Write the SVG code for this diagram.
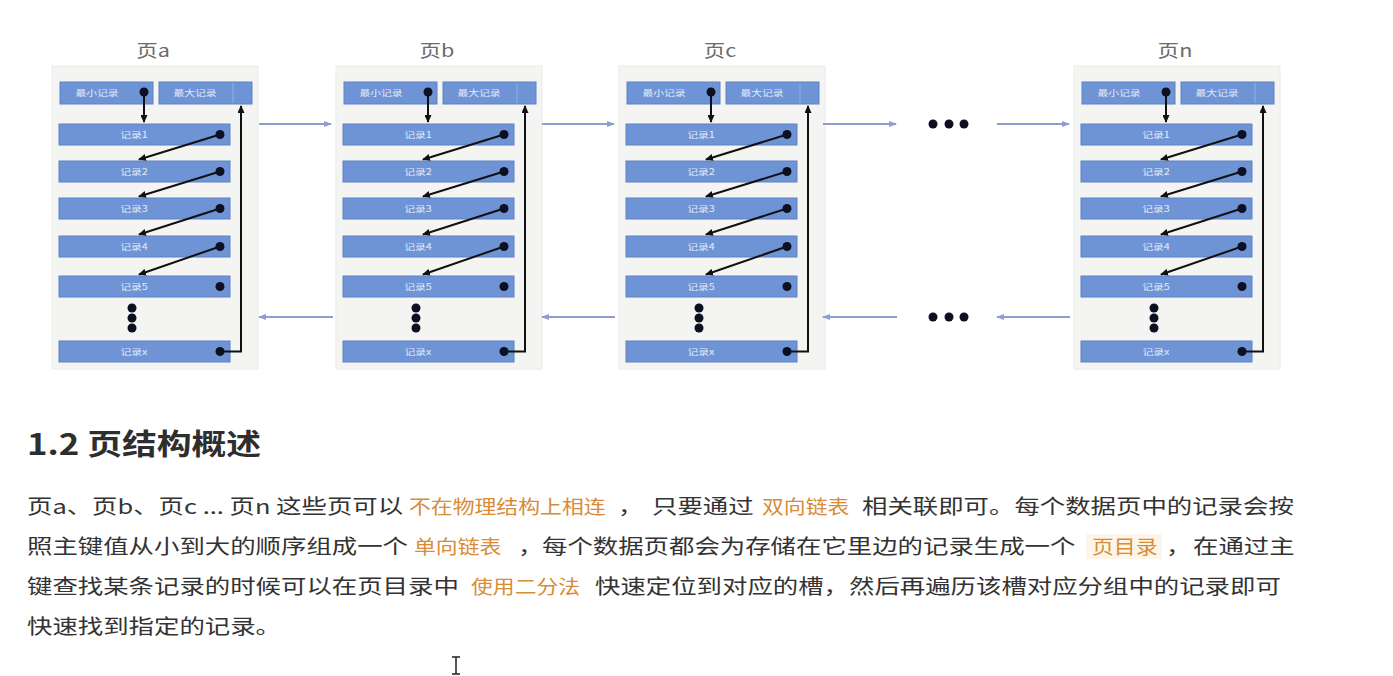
<svg xmlns="http://www.w3.org/2000/svg" width="1393" height="676" viewBox="0 0 1393 676">
<style>
.panel{fill:#f4f4f2;stroke:#ebebe8;stroke-width:1}
.box{fill:#6f94d6;stroke:#5d82c6;stroke-width:1}
.div{stroke:#8fb0e6;stroke-width:1}
.lbl{font-family:"Noto Sans CJK SC","Noto Sans",sans-serif;font-size:8.5px;fill:#e3ebf8;text-anchor:middle}
.title{font-family:"Noto Sans CJK SC","Noto Sans",sans-serif;font-size:17px;fill:#6b6b6b;text-anchor:middle}
.dot{fill:#0d1020}
.ptr{stroke:#111;stroke-width:2;fill:none}
.link{stroke:#8f9bd3;stroke-width:2;fill:none}
.t{font-family:"Noto Sans CJK SC","Noto Sans",sans-serif;font-size:20px;fill:#333}
.o{font-family:"Noto Sans CJK SC","Noto Sans",sans-serif;font-size:19px;fill:#d88c38}
.h{font-family:"Noto Sans CJK SC","Noto Sans",sans-serif;font-size:29px;font-weight:bold;fill:#2e2e2e}
</style>
<defs>
<marker id="ah" viewBox="0 0 8 7" refX="7" refY="3.5" markerWidth="8" markerHeight="7" markerUnits="userSpaceOnUse" orient="auto"><path d="M0,0 L8,3.5 L0,7 z" fill="#111"/></marker>
<marker id="lh" viewBox="0 0 8 6" refX="7" refY="3" markerWidth="8" markerHeight="6" markerUnits="userSpaceOnUse" orient="auto"><path d="M0,0 L8,3 L0,6 z" fill="#8f9bd3"/></marker>
</defs>
<rect width="1393" height="676" fill="#ffffff"/>

<g id="page-a">
<rect class="panel" x="52" y="66" width="206" height="303"/>
<text class="title" transform="translate(153,57) scale(1.27 1)">页a</text>
<rect class="box" x="60" y="82" width="93" height="22"/>
<text class="lbl" transform="translate(97,96) scale(1.27 1)">最小记录</text>
<rect class="box" x="159" y="82" width="93" height="22"/>
<line class="div" x1="233" y1="83" x2="233" y2="103"/>
<text class="lbl" transform="translate(195,96) scale(1.27 1)">最大记录</text>
<rect class="box" x="59" y="124" width="171" height="21"/><text class="lbl" transform="translate(134,137.5) scale(1.27 1)">记录1</text>
<rect class="box" x="59" y="161" width="171" height="21"/><text class="lbl" transform="translate(134,174.5) scale(1.27 1)">记录2</text>
<rect class="box" x="59" y="198" width="171" height="21"/><text class="lbl" transform="translate(134,211.5) scale(1.27 1)">记录3</text>
<rect class="box" x="59" y="236" width="171" height="21"/><text class="lbl" transform="translate(134,249.5) scale(1.27 1)">记录4</text>
<rect class="box" x="59" y="276" width="171" height="21"/><text class="lbl" transform="translate(134,289.5) scale(1.27 1)">记录5</text>
<rect class="box" x="59" y="341" width="171" height="21"/><text class="lbl" transform="translate(134,354.5) scale(1.27 1)">记录x</text>
<circle class="dot" cx="132" cy="308" r="4.5"/><circle class="dot" cx="132" cy="318" r="4.5"/><circle class="dot" cx="132" cy="328" r="4.5"/>
<line class="ptr" x1="144" y1="92" x2="144" y2="122" marker-end="url(#ah)"/>
<line class="ptr" x1="220" y1="134.5" x2="139" y2="159.5" marker-end="url(#ah)"/>
<line class="ptr" x1="220" y1="171.5" x2="139" y2="196.5" marker-end="url(#ah)"/>
<line class="ptr" x1="220" y1="208.5" x2="139" y2="234.5" marker-end="url(#ah)"/>
<line class="ptr" x1="220" y1="246.5" x2="139" y2="274.5" marker-end="url(#ah)"/>
<polyline class="ptr" points="220,351.5 241,351.5 241,106" marker-end="url(#ah)"/>
<circle class="dot" cx="144" cy="92" r="4.5"/>
<circle class="dot" cx="220" cy="134.5" r="4.5"/><circle class="dot" cx="220" cy="171.5" r="4.5"/><circle class="dot" cx="220" cy="208.5" r="4.5"/><circle class="dot" cx="220" cy="246.5" r="4.5"/><circle class="dot" cx="220" cy="286.5" r="4.5"/><circle class="dot" cx="220" cy="351.5" r="4.5"/>
</g>

<g id="page-b" transform="translate(284,0)">
<rect class="panel" x="52" y="66" width="206" height="303"/>
<text class="title" transform="translate(153,57) scale(1.27 1)">页b</text>
<rect class="box" x="60" y="82" width="93" height="22"/>
<text class="lbl" transform="translate(97,96) scale(1.27 1)">最小记录</text>
<rect class="box" x="159" y="82" width="93" height="22"/>
<line class="div" x1="233" y1="83" x2="233" y2="103"/>
<text class="lbl" transform="translate(195,96) scale(1.27 1)">最大记录</text>
<rect class="box" x="59" y="124" width="171" height="21"/><text class="lbl" transform="translate(134,137.5) scale(1.27 1)">记录1</text>
<rect class="box" x="59" y="161" width="171" height="21"/><text class="lbl" transform="translate(134,174.5) scale(1.27 1)">记录2</text>
<rect class="box" x="59" y="198" width="171" height="21"/><text class="lbl" transform="translate(134,211.5) scale(1.27 1)">记录3</text>
<rect class="box" x="59" y="236" width="171" height="21"/><text class="lbl" transform="translate(134,249.5) scale(1.27 1)">记录4</text>
<rect class="box" x="59" y="276" width="171" height="21"/><text class="lbl" transform="translate(134,289.5) scale(1.27 1)">记录5</text>
<rect class="box" x="59" y="341" width="171" height="21"/><text class="lbl" transform="translate(134,354.5) scale(1.27 1)">记录x</text>
<circle class="dot" cx="132" cy="308" r="4.5"/><circle class="dot" cx="132" cy="318" r="4.5"/><circle class="dot" cx="132" cy="328" r="4.5"/>
<line class="ptr" x1="144" y1="92" x2="144" y2="122" marker-end="url(#ah)"/>
<line class="ptr" x1="220" y1="134.5" x2="139" y2="159.5" marker-end="url(#ah)"/>
<line class="ptr" x1="220" y1="171.5" x2="139" y2="196.5" marker-end="url(#ah)"/>
<line class="ptr" x1="220" y1="208.5" x2="139" y2="234.5" marker-end="url(#ah)"/>
<line class="ptr" x1="220" y1="246.5" x2="139" y2="274.5" marker-end="url(#ah)"/>
<polyline class="ptr" points="220,351.5 241,351.5 241,106" marker-end="url(#ah)"/>
<circle class="dot" cx="144" cy="92" r="4.5"/>
<circle class="dot" cx="220" cy="134.5" r="4.5"/><circle class="dot" cx="220" cy="171.5" r="4.5"/><circle class="dot" cx="220" cy="208.5" r="4.5"/><circle class="dot" cx="220" cy="246.5" r="4.5"/><circle class="dot" cx="220" cy="286.5" r="4.5"/><circle class="dot" cx="220" cy="351.5" r="4.5"/>
</g>

<g id="page-c" transform="translate(567,0)">
<rect class="panel" x="52" y="66" width="206" height="303"/>
<text class="title" transform="translate(153,57) scale(1.27 1)">页c</text>
<rect class="box" x="60" y="82" width="93" height="22"/>
<text class="lbl" transform="translate(97,96) scale(1.27 1)">最小记录</text>
<rect class="box" x="159" y="82" width="93" height="22"/>
<line class="div" x1="233" y1="83" x2="233" y2="103"/>
<text class="lbl" transform="translate(195,96) scale(1.27 1)">最大记录</text>
<rect class="box" x="59" y="124" width="171" height="21"/><text class="lbl" transform="translate(134,137.5) scale(1.27 1)">记录1</text>
<rect class="box" x="59" y="161" width="171" height="21"/><text class="lbl" transform="translate(134,174.5) scale(1.27 1)">记录2</text>
<rect class="box" x="59" y="198" width="171" height="21"/><text class="lbl" transform="translate(134,211.5) scale(1.27 1)">记录3</text>
<rect class="box" x="59" y="236" width="171" height="21"/><text class="lbl" transform="translate(134,249.5) scale(1.27 1)">记录4</text>
<rect class="box" x="59" y="276" width="171" height="21"/><text class="lbl" transform="translate(134,289.5) scale(1.27 1)">记录5</text>
<rect class="box" x="59" y="341" width="171" height="21"/><text class="lbl" transform="translate(134,354.5) scale(1.27 1)">记录x</text>
<circle class="dot" cx="132" cy="308" r="4.5"/><circle class="dot" cx="132" cy="318" r="4.5"/><circle class="dot" cx="132" cy="328" r="4.5"/>
<line class="ptr" x1="144" y1="92" x2="144" y2="122" marker-end="url(#ah)"/>
<line class="ptr" x1="220" y1="134.5" x2="139" y2="159.5" marker-end="url(#ah)"/>
<line class="ptr" x1="220" y1="171.5" x2="139" y2="196.5" marker-end="url(#ah)"/>
<line class="ptr" x1="220" y1="208.5" x2="139" y2="234.5" marker-end="url(#ah)"/>
<line class="ptr" x1="220" y1="246.5" x2="139" y2="274.5" marker-end="url(#ah)"/>
<polyline class="ptr" points="220,351.5 241,351.5 241,106" marker-end="url(#ah)"/>
<circle class="dot" cx="144" cy="92" r="4.5"/>
<circle class="dot" cx="220" cy="134.5" r="4.5"/><circle class="dot" cx="220" cy="171.5" r="4.5"/><circle class="dot" cx="220" cy="208.5" r="4.5"/><circle class="dot" cx="220" cy="246.5" r="4.5"/><circle class="dot" cx="220" cy="286.5" r="4.5"/><circle class="dot" cx="220" cy="351.5" r="4.5"/>
</g>

<g id="page-n" transform="translate(1022,0)">
<rect class="panel" x="52" y="66" width="206" height="303"/>
<text class="title" transform="translate(153,57) scale(1.27 1)">页n</text>
<rect class="box" x="60" y="82" width="93" height="22"/>
<text class="lbl" transform="translate(97,96) scale(1.27 1)">最小记录</text>
<rect class="box" x="159" y="82" width="93" height="22"/>
<line class="div" x1="233" y1="83" x2="233" y2="103"/>
<text class="lbl" transform="translate(195,96) scale(1.27 1)">最大记录</text>
<rect class="box" x="59" y="124" width="171" height="21"/><text class="lbl" transform="translate(134,137.5) scale(1.27 1)">记录1</text>
<rect class="box" x="59" y="161" width="171" height="21"/><text class="lbl" transform="translate(134,174.5) scale(1.27 1)">记录2</text>
<rect class="box" x="59" y="198" width="171" height="21"/><text class="lbl" transform="translate(134,211.5) scale(1.27 1)">记录3</text>
<rect class="box" x="59" y="236" width="171" height="21"/><text class="lbl" transform="translate(134,249.5) scale(1.27 1)">记录4</text>
<rect class="box" x="59" y="276" width="171" height="21"/><text class="lbl" transform="translate(134,289.5) scale(1.27 1)">记录5</text>
<rect class="box" x="59" y="341" width="171" height="21"/><text class="lbl" transform="translate(134,354.5) scale(1.27 1)">记录x</text>
<circle class="dot" cx="132" cy="308" r="4.5"/><circle class="dot" cx="132" cy="318" r="4.5"/><circle class="dot" cx="132" cy="328" r="4.5"/>
<line class="ptr" x1="144" y1="92" x2="144" y2="122" marker-end="url(#ah)"/>
<line class="ptr" x1="220" y1="134.5" x2="139" y2="159.5" marker-end="url(#ah)"/>
<line class="ptr" x1="220" y1="171.5" x2="139" y2="196.5" marker-end="url(#ah)"/>
<line class="ptr" x1="220" y1="208.5" x2="139" y2="234.5" marker-end="url(#ah)"/>
<line class="ptr" x1="220" y1="246.5" x2="139" y2="274.5" marker-end="url(#ah)"/>
<polyline class="ptr" points="220,351.5 241,351.5 241,106" marker-end="url(#ah)"/>
<circle class="dot" cx="144" cy="92" r="4.5"/>
<circle class="dot" cx="220" cy="134.5" r="4.5"/><circle class="dot" cx="220" cy="171.5" r="4.5"/><circle class="dot" cx="220" cy="208.5" r="4.5"/><circle class="dot" cx="220" cy="246.5" r="4.5"/><circle class="dot" cx="220" cy="286.5" r="4.5"/><circle class="dot" cx="220" cy="351.5" r="4.5"/>
</g>

<g id="ellipsis">
<circle class="dot" cx="933" cy="124" r="4.5"/><circle class="dot" cx="949" cy="124" r="4.5"/><circle class="dot" cx="964" cy="124" r="4.5"/>
<circle class="dot" cx="933" cy="317" r="4.5"/><circle class="dot" cx="949" cy="317" r="4.5"/><circle class="dot" cx="964" cy="317" r="4.5"/>
</g>

<g id="connectors">
<line class="link" x1="259" y1="124" x2="331" y2="124" marker-end="url(#lh)"/>
<line class="link" x1="542" y1="124" x2="614" y2="124" marker-end="url(#lh)"/>
<line class="link" x1="823" y1="124" x2="896" y2="124" marker-end="url(#lh)"/>
<line class="link" x1="997" y1="124" x2="1069" y2="124" marker-end="url(#lh)"/>
<line class="link" x1="333" y1="317" x2="259" y2="317" marker-end="url(#lh)"/>
<line class="link" x1="615" y1="317" x2="542" y2="317" marker-end="url(#lh)"/>
<line class="link" x1="897" y1="317" x2="823" y2="317" marker-end="url(#lh)"/>
<line class="link" x1="1070" y1="317" x2="997" y2="317" marker-end="url(#lh)"/>
</g>

<g id="text-body">
<text class="h" transform="translate(27,455) scale(1.2 1)">1.2 页结构概述</text>
<text class="t" transform="translate(27,513.5) scale(1.27 1)">页a、页b、页c ... 页n 这些页可以</text>
<text class="o" transform="translate(409,513.5) scale(1.15 1)">不在物理结构上相连</text>
<text class="t" transform="translate(618,513.5) scale(1.27 1)">，</text>
<text class="t" transform="translate(652,513.5) scale(1.27 1)">只要通过</text>
<text class="o" transform="translate(762,513.5) scale(1.15 1)">双向链表</text>
<text class="t" transform="translate(862,513.5) scale(1.27 1)">相关联即可。每个数据页中的记录会按</text>

<text class="t" transform="translate(27,553.5) scale(1.27 1)">照主键值从小到大的顺序组成一个</text>
<text class="o" transform="translate(414,553.5) scale(1.15 1)">单向链表</text>
<text class="t" transform="translate(518,553.5) scale(1.27 1)">，</text>
<text class="t" transform="translate(542,553.5) scale(1.27 1)">每个数据页都会为存储在它里边的记录生成一个</text>
<rect x="1086" y="534" width="76" height="25" fill="#fdf5e8"/>
<text class="o" transform="translate(1092,553.5) scale(1.15 1)">页目录</text>
<text class="t" transform="translate(1166,553.5) scale(1.27 1)">，</text>
<text class="t" transform="translate(1193,553.5) scale(1.27 1)">在通过主</text>

<text class="t" transform="translate(27,593.5) scale(1.27 1)">键查找某条记录的时候可以在页目录中</text>
<text class="o" transform="translate(471,593.5) scale(1.15 1)">使用二分法</text>
<text class="t" transform="translate(595,593.5) scale(1.27 1)">快速定位到对应的槽，然后再遍历该槽对应分组中的记录即可</text>

<text class="t" transform="translate(27,633.5) scale(1.27 1)">快速找到指定的记录。</text>
</g>

<path d="M452,657 L460,657 M456,657 L456,674 M452,674 L460,674" stroke="#222" stroke-width="1.5" fill="none"/>
</svg>
